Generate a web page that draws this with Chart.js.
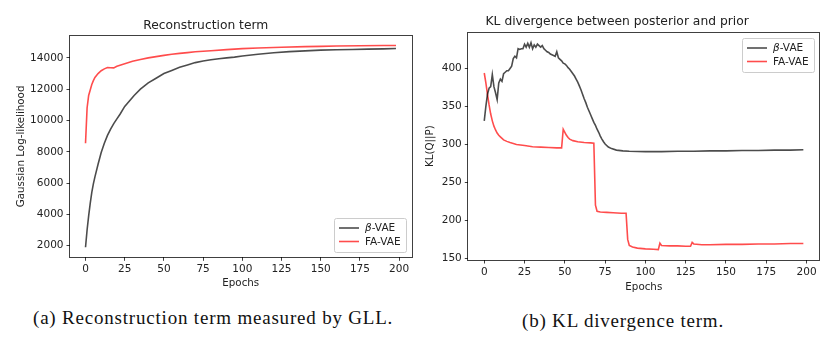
<!DOCTYPE html>
<html>
<head>
<meta charset="utf-8">
<script src="https://cdn.jsdelivr.net/npm/chart.js@4.4.1/dist/chart.umd.min.js"></script>
<style>
  body { margin: 0; width: 829px; height: 340px; background: #fff; position: relative; overflow: hidden; }
  canvas { position: absolute; top: 0; }
  #reconChart { left: 0; }
  #klChart { left: 415px; }
  .caption { position: absolute; font-family: "Liberation Serif", serif; font-size: 19px; letter-spacing: 0.8px; color: #111; white-space: nowrap; }
</style>
</head>
<body>
<canvas id="reconChart" width="415" height="300"></canvas>
<canvas id="klChart" width="414" height="300"></canvas>
<div class="caption" style="left:33px; top:307px;">(a) Reconstruction term measured by GLL.</div>
<div class="caption" style="left:522px; top:310px;">(b) KL divergence term.</div>
<script>
// tick positions
const epochTicks = [0, 25, 50, 75, 100, 125, 150, 175, 200];
const reconTicks = [2000, 4000, 6000, 8000, 10000, 12000, 14000];
const klTicks = [150, 200, 250, 300, 350, 400];

// reconstruction term (Gaussian log-likelihood)
const reconEpochsBeta = [0, 1, 2, 3, 4, 5, 6, 8, 10, 12, 14, 16, 18, 20, 22, 25, 28, 31, 35, 40, 45, 50, 55, 60, 65, 70, 75, 80, 85, 90, 95, 100, 110, 120, 130, 140, 150, 160, 170, 180, 190, 198];
const reconBeta = [1900, 3000, 3900, 4700, 5400, 5950, 6400, 7200, 7950, 8550, 9050, 9450, 9800, 10100, 10400, 10900, 11250, 11600, 12000, 12400, 12700, 13000, 13200, 13400, 13550, 13700, 13800, 13880, 13950, 14000, 14050, 14120, 14230, 14330, 14400, 14450, 14500, 14520, 14540, 14560, 14580, 14600];
const reconEpochsFa = [0, 1, 2, 3, 4, 5, 6, 8, 10, 12, 14, 16, 18, 20, 22, 25, 30, 35, 40, 45, 50, 55, 60, 65, 70, 75, 80, 90, 100, 110, 125, 140, 150, 160, 175, 190, 198];
const reconFa = [8550, 10800, 11600, 11950, 12300, 12550, 12750, 13000, 13180, 13300, 13380, 13370, 13360, 13460, 13530, 13620, 13780, 13900, 14000, 14080, 14160, 14230, 14290, 14340, 14390, 14430, 14460, 14530, 14590, 14630, 14680, 14720, 14740, 14760, 14780, 14790, 14790];

// KL divergence between posterior and prior
const klEpochsBeta = [0, 1, 2, 3, 4, 5, 6, 7, 8, 9, 10, 11, 12, 13, 14, 15, 16, 17, 18, 19, 20, 21, 22, 23, 24, 25, 26, 27, 28, 29, 30, 31, 32, 33, 34, 35, 36, 37, 38, 39, 40, 41, 42, 43, 44, 45, 46, 47, 48, 49, 50, 51, 52, 53, 54, 55, 56, 57, 58, 59, 60, 61, 62, 63, 64, 65, 66, 67, 68, 69, 70, 71, 72, 73, 74, 75, 77, 79, 82, 86, 90, 100, 110, 120, 130, 140, 150, 160, 170, 180, 190, 198];
const klBeta = [331, 350, 366, 374, 376, 392, 376, 368, 359, 381, 386, 383, 393, 395, 397, 397, 400, 403, 413, 416, 414, 426, 425, 426, 426, 432, 428, 433, 428, 434, 426, 431, 428, 432, 430, 428, 430, 426, 424, 422, 421, 419, 418, 417, 416, 422, 414, 412, 410, 407, 406, 404, 401, 399, 396, 393, 390, 386, 382, 377, 372, 366, 360, 355, 349, 344, 339, 334, 329, 325, 320, 316, 311, 307, 303.5, 300.5, 296.5, 294.5, 292.5, 291.5, 291, 290.5, 290.5, 291, 291, 291.5, 291.5, 292, 292, 292.5, 292.5, 293];
const klEpochsFa = [0, 1, 2, 3, 4, 5, 6, 7, 8, 9, 10, 12, 14, 16, 20, 25, 30, 35, 40, 45, 48, 49, 50, 51, 52, 53, 55, 58, 62, 66, 68, 69, 70, 72, 76, 80, 85, 88, 89, 90, 92, 95, 100, 105, 108, 109, 110, 115, 120, 125, 128, 129, 130, 135, 140, 150, 160, 170, 180, 190, 198];
const klFa = [394, 381, 366, 352, 340, 331, 324, 319, 315, 312, 310, 306, 304, 302.5, 300, 298.5, 297, 296.5, 296, 295.5, 295.5, 320, 316, 312, 309, 307, 305, 303.5, 302.5, 302, 301.5, 220, 212, 211, 210.5, 210, 209.5, 209.5, 175, 167, 165, 163.5, 162.5, 162, 161.5, 170, 167, 166.5, 166.5, 166, 166, 171, 169, 168, 168, 168.5, 168.5, 169, 169, 169.5, 169.5];

const FONT = 'DejaVu Sans';
const TEXT = '#222';
const AXIS = 'rgba(0,0,0,0.75)';
const BETA_COLOR = 'rgba(0,0,0,0.7)';
const FA_COLOR = 'rgba(255,0,0,0.7)';

function toPoints(xs, ys) {
    return xs.map((x, i) => ({ x: x, y: ys[i] }));
}

// 5% margin on each side, like matplotlib's autoscale
function paddedRange(values) {
    const lo = Math.min(...values), hi = Math.max(...values);
    const m = (hi - lo) * 0.05;
    return { min: lo - m, max: hi + m };
}

// box around the plotting area
const framePlugin = {
    id: 'frame',
    afterDraw(chart) {
        const { ctx, chartArea: a } = chart;
        ctx.save();
        ctx.strokeStyle = AXIS;
        ctx.lineWidth = 1;
        ctx.strokeRect(Math.round(a.left) - 0.5, Math.round(a.top) + 0.5, Math.round(a.right - a.left) + 1, Math.round(a.bottom - a.top));
        ctx.restore();
    }
};

// framed legend inside the plot, greek letters in italic
const boxLegendPlugin = {
    id: 'boxLegend',
    afterDraw(chart, args, opts) {
        const { ctx, chartArea: a } = chart;
        const size = 10.5;
        const sets = chart.data.datasets;
        const split = s => s.split(/([\u03b1-\u03c9])/).filter(p => p.length);
        const fontFor = p => (/[\u03b1-\u03c9]/.test(p) ? 'italic ' : '') + size + 'px "' + FONT + '"';
        ctx.save();
        const widths = sets.map(d => split(d.label).reduce((w, p) => { ctx.font = fontFor(p); return w + ctx.measureText(p).width; }, 0));
        const w = Math.round(31 + Math.max(...widths) + 5);
        const h = 34;
        const x = Math.round(a.right - 5.5 - w);
        const y = Math.round(opts.corner === 'upper right' ? a.top + 6 : a.bottom - 5 - h);
        ctx.fillStyle = 'rgba(255,255,255,0.8)';
        ctx.strokeStyle = '#cccccc';
        ctx.lineWidth = 1;
        ctx.beginPath();
        ctx.roundRect(x + 0.5, y + 0.5, w, h, 2);
        ctx.fill();
        ctx.stroke();
        sets.forEach((d, i) => {
            const ry = y + 10 + i * 13.5;
            ctx.strokeStyle = d.borderColor;
            ctx.lineWidth = d.borderWidth;
            ctx.beginPath();
            ctx.moveTo(x + 5, ry);
            ctx.lineTo(x + 25, ry);
            ctx.stroke();
            let tx = x + 31;
            ctx.fillStyle = TEXT;
            ctx.textBaseline = 'middle';
            split(d.label).forEach(p => {
                ctx.font = fontFor(p);
                ctx.fillText(p, tx, ry + 0.5);
                tx += ctx.measureText(p).width;
            });
        });
        ctx.restore();
    }
};

function makeChart(id, cfg) {
    const tickFont = { family: FONT, size: 10.5 };
    const labelFont = { family: FONT, size: 10.3 };
    const xRange = paddedRange([...cfg.series[0].x, ...cfg.series[1].x]);
    const yRange = paddedRange([...cfg.series[0].y, ...cfg.series[1].y]);
    return new Chart(document.getElementById(id), {
        type: 'line',
        data: {
            datasets: cfg.series.map(s => ({
                label: s.label,
                data: toPoints(s.x, s.y),
                borderColor: s.color,
                borderWidth: 1.6,
                pointRadius: 0,
                tension: 0,
                fill: false
            }))
        },
        options: {
            responsive: false,
            animation: false,
            events: [],
            layout: { padding: { left: 0, right: cfg.padRight, top: 0, bottom: 0 } },
            plugins: {
                legend: { display: false },
                tooltip: { enabled: false },
                title: {
                    display: true,
                    text: cfg.title,
                    color: TEXT,
                    font: { family: FONT, size: 12.3, weight: 'normal' },
                    padding: cfg.titlePad
                },
                boxLegend: { corner: cfg.legendCorner }
            },
            scales: {
                x: {
                    type: 'linear',
                    min: xRange.min,
                    max: xRange.max,
                    afterBuildTicks: s => { s.ticks = epochTicks.map(v => ({ value: v })); },
                    afterFit: s => { s.height = cfg.xHeight; },
                    border: { display: false },
                    grid: { drawOnChartArea: false, drawTicks: true, tickLength: 3.5, color: AXIS },
                    ticks: { color: TEXT, font: tickFont, padding: 2, maxRotation: 0, autoSkip: false, callback: v => String(v) },
                    title: { display: true, text: 'Epochs', color: TEXT, font: labelFont, padding: { top: 0, bottom: cfg.xTitlePad } }
                },
                y: {
                    type: 'linear',
                    min: yRange.min,
                    max: yRange.max,
                    afterBuildTicks: s => { s.ticks = cfg.yTicks.map(v => ({ value: v })); },
                    afterFit: s => { s.width = cfg.yWidth; },
                    border: { display: false },
                    grid: { drawOnChartArea: false, drawTicks: true, tickLength: 3.5, color: AXIS },
                    ticks: { color: TEXT, font: tickFont, padding: 3, autoSkip: false, callback: v => String(v) },
                    title: { display: true, text: cfg.yTitle, color: TEXT, font: labelFont, padding: { top: cfg.yTitlePad, bottom: 0 } }
                }
            }
        },
        plugins: [framePlugin, boxLegendPlugin]
    });
}

makeChart('reconChart', {
    title: 'Reconstruction term',
    yTitle: 'Gaussian Log-likelihood',
    yTicks: reconTicks,
    series: [
        { label: '\u03b2-VAE', x: reconEpochsBeta, y: reconBeta, color: BETA_COLOR },
        { label: 'FA-VAE', x: reconEpochsFa, y: reconFa, color: FA_COLOR }
    ],
    legendCorner: 'lower right',
    yWidth: 70,
    xHeight: 42.7,
    padRight: 3.5,
    titlePad: { top: 18.6, bottom: 2.1 },
    xTitlePad: 10.4,
    yTitlePad: 15.4
});

makeChart('klChart', {
    title: 'KL divergence between posterior and prior',
    yTitle: 'KL(Q||P)',
    yTicks: klTicks,
    series: [
        { label: '\u03b2-VAE', x: klEpochsBeta, y: klBeta, color: BETA_COLOR },
        { label: 'FA-VAE', x: klEpochsFa, y: klFa, color: FA_COLOR }
    ],
    legendCorner: 'upper right',
    yWidth: 53.3,
    xHeight: 40,
    padRight: 9.7,
    titlePad: { top: 14.9, bottom: 2.6 },
    xTitlePad: 6.4,
    yTitlePad: 8.7
});
</script>
</body>
</html>
